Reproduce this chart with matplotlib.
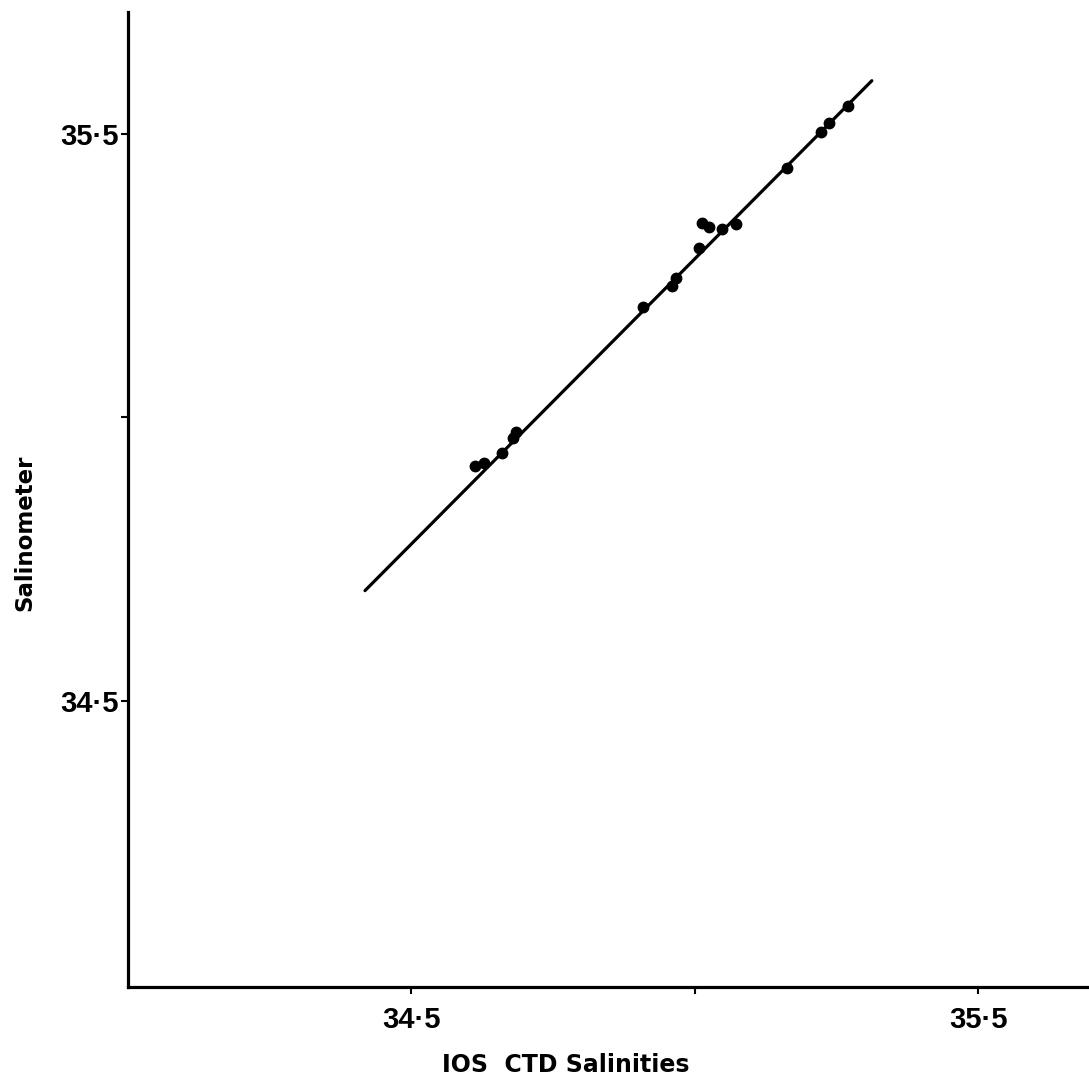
import matplotlib
matplotlib.use("Agg")
import matplotlib.pyplot as plt

# Data
ctd_x = [34.612, 34.628, 34.660, 34.679, 34.684, 34.908, 34.959, 34.966,
         35.007, 35.012, 35.025, 35.048, 35.072, 35.162, 35.222, 35.236, 35.270]
sal_y = [34.914, 34.919, 34.938, 34.963, 34.975, 35.195, 35.232, 35.245,
         35.299, 35.342, 35.335, 35.331, 35.340, 35.440, 35.502, 35.519, 35.549]
fit_x = [34.418, 35.312]
fit_y = [34.695, 35.593]
tick_vals = [34.5, 35.0, 35.5]
tick_labels = ["34·5", "", "35·5"]

plt.rcParams['font.family'] = ['Liberation Sans', 'DejaVu Sans']

fig = plt.figure(figsize=(10.89, 10.82), dpi=100)
ax = fig.add_axes([128/1089, (1082-987)/1082, 961/1089, (987-12)/1082])

ax.plot(fit_x, fit_y, color='black', lw=2.3, solid_capstyle='round')
ax.plot(ctd_x, sal_y, 'o', color='black', ms=7.5)

ax.set_xlim(34.0, 35.695)
ax.set_ylim(33.997, 35.714)

for s in ['top', 'right']:
    ax.spines[s].set_visible(False)
for s in ['left', 'bottom']:
    ax.spines[s].set_linewidth(2.3)

ax.set_xticks(tick_vals)
ax.set_xticklabels(tick_labels)
ax.set_yticks(tick_vals)
ax.set_yticklabels(tick_labels)
ax.tick_params(axis='both', direction='out', length=5, width=1.5, pad=2)
for lbl in ax.get_xticklabels() + ax.get_yticklabels():
    lbl.set_fontsize(21)
    lbl.set_fontweight('bold')
ax.tick_params(axis='x', pad=9)

ax.set_xlabel("IOS  CTD Salinities", fontsize=17, fontweight='bold',
              family=['DejaVu Sans'])
ax.set_ylabel("Salinometer", fontsize=16.5, fontweight='bold',
              family=['DejaVu Sans'])
ax.xaxis.set_label_coords(0.456, -0.080)
ax.yaxis.set_label_coords(-0.107, 0.466)
ax.xaxis.label.set_va('center')
ax.yaxis.label.set_va('center')

fig.savefig("out.png", dpi=100, facecolor='white')
